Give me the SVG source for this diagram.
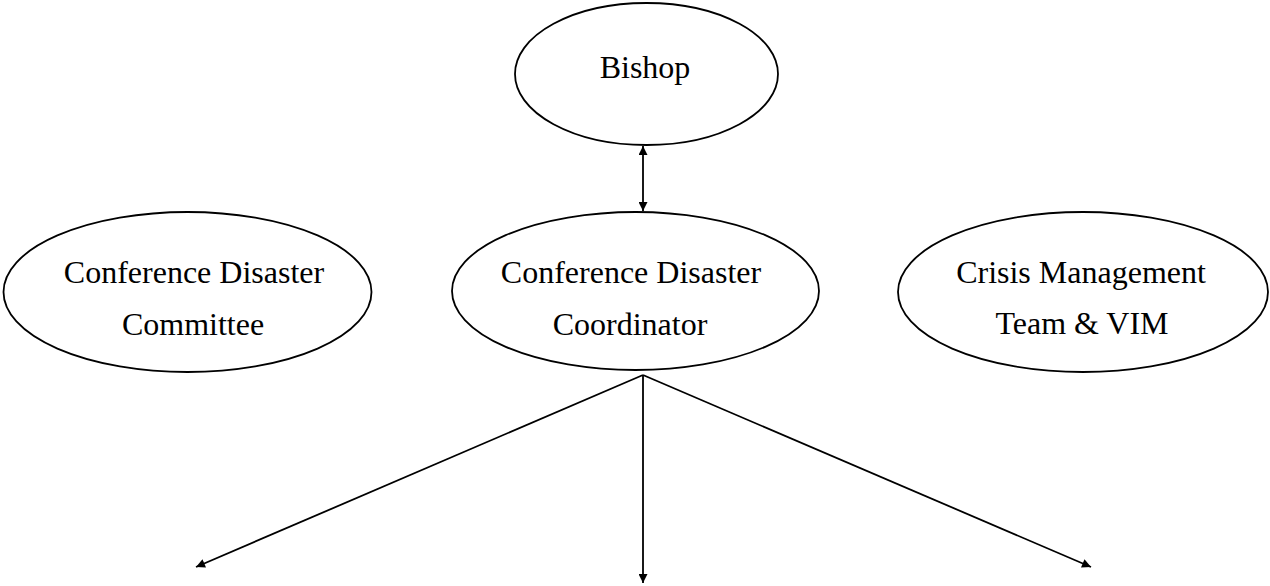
<svg xmlns="http://www.w3.org/2000/svg" width="1270" height="586" viewBox="0 0 1270 586">
<style>
.node ellipse{fill:#fff;stroke:#000;stroke-width:1.8}
.node text{font-family:"Liberation Serif","Times New Roman",serif;font-size:32px;fill:#000;text-anchor:middle}
.conn line{stroke:#000;stroke-width:1.8;fill:none}
</style>
<defs>
<marker id="ah" viewBox="0 0 10 10" refX="10" refY="5" markerWidth="5.5" markerHeight="5" orient="auto-start-reverse" markerUnits="strokeWidth">
<path d="M0,0 L10,5 L0,10 z" fill="#000"/>
</marker>
</defs>
<rect width="1270" height="586" fill="#fff"/>
<g id="bishop" class="node">
<ellipse cx="646.5" cy="74" rx="131.5" ry="71"/>
<text x="645" y="78">Bishop</text>
</g>
<g id="committee" class="node">
<ellipse cx="187.5" cy="292" rx="184" ry="80"/>
<text x="194" y="283">Conference Disaster</text>
<text x="193" y="335">Committee</text>
</g>
<g id="coordinator" class="node">
<ellipse cx="635.5" cy="291" rx="183.5" ry="79"/>
<text x="631" y="283">Conference Disaster</text>
<text x="630" y="335">Coordinator</text>
</g>
<g id="crisis" class="node">
<ellipse cx="1083" cy="292" rx="185" ry="80"/>
<text x="1081" y="283">Crisis Management</text>
<text x="1082" y="334">Team &amp; VIM</text>
</g>
<g id="connectors" class="conn">
<line x1="643" y1="146" x2="643" y2="211" marker-start="url(#ah)" marker-end="url(#ah)"/>
<line x1="643" y1="375" x2="196" y2="567" marker-end="url(#ah)"/>
<line x1="643" y1="375" x2="643" y2="583" marker-end="url(#ah)"/>
<line x1="643" y1="375" x2="1091" y2="567" marker-end="url(#ah)"/>
</g>
</svg>
